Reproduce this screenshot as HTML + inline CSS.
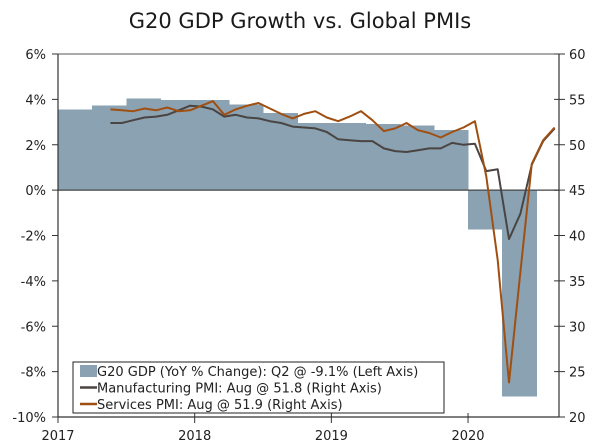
<!DOCTYPE html>
<html><head><meta charset="utf-8"><style>
body{margin:0;background:#fff;}
svg{display:block;font-family:"DejaVu Sans","Liberation Sans",sans-serif;}
</style></head><body>
<svg id="c" width="600" height="444">
<text x="300" y="28" text-anchor="middle" font-size="21" fill="#1a1a1a">G20 GDP Growth vs. Global PMIs</text>
</svg>
<script>
const gdpQuarters=["2017Q1","2017Q2","2017Q3","2017Q4","2018Q1","2018Q2","2018Q3","2018Q4","2019Q1","2019Q2","2019Q3","2019Q4","2020Q1","2020Q2"];
const gdpValues=[3.55,3.72,4.03,3.98,3.98,3.77,3.41,2.96,2.95,2.92,2.85,2.65,-1.74,-9.1];
const mfgStartMonth=4; // May 2017
const mfgValues=[52.4,52.4,52.7,53.0,53.1,53.3,53.8,54.3,54.2,53.9,53.1,53.3,53.0,52.9,52.6,52.4,52.0,51.9,51.8,51.4,50.6,50.5,50.4,50.4,49.6,49.3,49.2,49.4,49.6,49.6,50.2,50.0,50.1,47.1,47.3,39.6,42.4,47.8,50.4,51.8];
const svcValues=[53.9,53.8,53.7,54.0,53.8,54.1,53.7,53.8,54.3,54.8,53.3,53.9,54.3,54.6,54.0,53.4,52.9,53.4,53.7,53.0,52.6,53.1,53.7,52.7,51.5,51.8,52.4,51.6,51.3,50.8,51.4,51.9,52.6,46.5,37.3,23.8,36.0,47.9,50.5,51.9];
const leftTicks=[6,4,2,0,-2,-4,-6,-8,-10];
const rightTicks=[60,55,50,45,40,35,30,25,20];
const yearTicks=[2017,2018,2019,2020];

const NS="http://www.w3.org/2000/svg";
const svg=document.getElementById('c');
const X0=58,MPX=11.39,XR=559,YT=54,YB=417;
const xm=m=>X0+m*MPX;
const yl=v=>YT+(6-v)*(YB-YT)/16;
const yr=v=>YT+(60-v)*(YB-YT)/40;
function mk(t,a){const e=document.createElementNS(NS,t);for(const k in a)e.setAttribute(k,a[k]);svg.appendChild(e);return e;}

gdpQuarters.forEach((q,i)=>{
  const yr0=+q.slice(0,4),qq=+q.slice(5);
  const m0=(yr0-2017)*12+(qq-1)*3;
  const v=gdpValues[i];
  const r=mk('rect',{x:xm(m0),y:Math.min(yl(v),yl(0)),width:3*MPX+0.6,height:Math.abs(yl(v)-yl(0)),fill:'#8ba2b2','shape-rendering':'crispEdges'});
  
  
});
let f=mk('line',{x1:X0,y1:YT,x2:XR,y2:YT,stroke:'#555','stroke-width':1});

f=mk('line',{x1:X0,y1:yl(0),x2:XR,y2:yl(0),stroke:'#444','stroke-width':1.2});

f=mk('line',{x1:X0,y1:YT,x2:X0,y2:YB,stroke:'#333','stroke-width':1.2});

f=mk('line',{x1:XR,y1:YT,x2:XR,y2:YB,stroke:'#333','stroke-width':1.2});

f=mk('line',{x1:X0,y1:YB,x2:XR,y2:YB,stroke:'#333','stroke-width':1.2});


leftTicks.forEach(v=>{
  const y=yl(v);
  mk('line',{x1:X0-6,y1:y,x2:X0,y2:y,stroke:'#333'});
  const t=mk('text',{x:46,y:y+5,'text-anchor':'end','font-size':13,fill:'#222'});
  t.textContent=v+'%';
  
});
rightTicks.forEach(v=>{
  const y=yr(v);
  mk('line',{x1:XR-5,y1:y,x2:XR+6,y2:y,stroke:'#333'});
  const t=mk('text',{x:569,y:y+5,'font-size':13,fill:'#222'});
  t.textContent=v;
  
});
yearTicks.forEach(yv=>{
  const x=xm((yv-2017)*12);
  mk('line',{x1:x,y1:YB-4,x2:x,y2:YB+6,stroke:'#333'});
  const t=mk('text',{x:x,y:440,'text-anchor':'middle','font-size':13,fill:'#222'});
  t.textContent=yv;
  
});
function line(vals,color,name){
  const pts=vals.map((v,i)=>xm(mfgStartMonth+i+0.6).toFixed(1)+','+yr(v).toFixed(1)).join(' ');
  const p=mk('polyline',{points:pts,fill:'none',stroke:color,'stroke-width':2,'stroke-linejoin':'round'});
  
  
}
line(mfgValues,'#4a4442','manufacturing-pmi-line');
line(svcValues,'#a04f12','services-pmi-line');

const lg=mk('rect',{x:73,y:362,width:371,height:51,fill:'#fff',stroke:'#222','stroke-width':1});

const items=[['G20 GDP (YoY % Change): Q2 @ -9.1% (Left Axis)','bar','#8ba2b2'],['Manufacturing PMI: Aug @ 51.8 (Right Axis)','line','#4a4442'],['Services PMI: Aug @ 51.9 (Right Axis)','line','#a04f12']];
items.forEach((it,i)=>{
  const y=371+i*16.5;
  if(it[1]==='bar') mk('rect',{x:80,y:y-6,width:17,height:12,fill:it[2]});
  else mk('line',{x1:80,y1:y,x2:97,y2:y,stroke:it[2],'stroke-width':2.5});
  const t=mk('text',{x:97,y:y+5,'font-size':13,fill:'#222'});
  t.textContent=it[0];
  
});
</script>
</body></html>
